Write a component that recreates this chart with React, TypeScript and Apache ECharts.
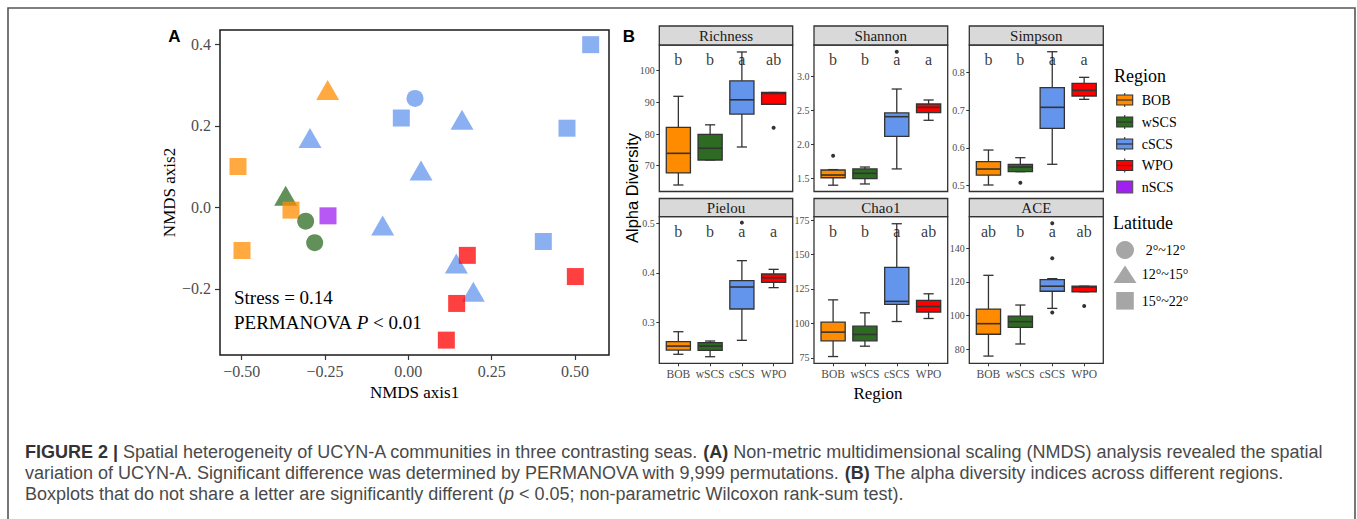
import React, { useEffect, useRef } from 'react';
import * as echarts from 'echarts';

const SERIF = "'Liberation Serif', 'Times New Roman', serif";
const SANS = "'Liberation Sans', Arial, Helvetica, sans-serif";

// ---------- Panel A: NMDS ----------
const regions = ['BOB', 'wSCS', 'cSCS', 'WPO', 'nSCS'];
const regionColors = ['#FF8C00', '#2E6B22', '#6495ED', '#FF0000', '#A020F0'];
const latitudeBands = ['2°~12°', '12°~15°', '15°~22°'];
const latitudeSymbols = ['circle', 'triangle', 'rect'];

const nmdsX = [-0.511, -0.499, -0.242, -0.368, -0.352, -0.308, -0.281, -0.241, 0.020, -0.021, 0.161, 0.547, 0.476, -0.295, 0.038, -0.077, 0.405, 0.144, 0.195, 0.177, 0.501, 0.145, 0.114];
const nmdsY = [0.100, -0.106, 0.288, 0.028, -0.007, -0.034, -0.087, -0.021, 0.267, 0.219, 0.215, 0.399, 0.194, 0.170, 0.090, -0.045, -0.084, -0.138, -0.207, -0.118, -0.170, -0.236, -0.326];
const nmdsRegion = ['BOB', 'BOB', 'BOB', 'wSCS', 'BOB', 'wSCS', 'wSCS', 'nSCS', 'cSCS', 'cSCS', 'cSCS', 'cSCS', 'cSCS', 'cSCS', 'cSCS', 'cSCS', 'cSCS', 'cSCS', 'cSCS', 'WPO', 'WPO', 'WPO', 'WPO'];
const nmdsLatitude = [2, 2, 1, 1, 2, 0, 0, 2, 0, 2, 1, 2, 2, 1, 1, 1, 2, 1, 1, 2, 2, 2, 2];
const nmdsXTicks = [-0.5, -0.25, 0, 0.25, 0.5];
const nmdsYTicks = [-0.2, 0, 0.2, 0.4];

// ---------- Panel B: alpha diversity ----------
const boxCategories = ['BOB', 'wSCS', 'cSCS', 'WPO'];
// each row: [min, Q1, median, Q3, max]
const richnessBoxes = [[63.9, 67.7, 73.9, 82.1, 91.9], [71.8, 71.8, 75.5, 79.9, 82.9], [75.9, 86.3, 90.8, 96.8, 105.9], [89.4, 89.4, 92.8, 93.1, 93.1]];
const richnessOutliers = [[4, 82.0]];
const richnessLetters = ['b', 'b', 'a', 'ab'];
const richnessTicks = [70, 80, 90, 100];

const shannonBoxes = [[1.40, 1.51, 1.55, 1.624, 1.63], [1.418, 1.496, 1.575, 1.64, 1.668], [1.64, 2.12, 2.41, 2.465, 2.818], [2.357, 2.47, 2.548, 2.597, 2.656]];
const shannonOutliers = [[1, 1.835], [3, 3.369]];
const shannonLetters = ['b', 'b', 'a', 'a'];
const shannonTicks = [1.5, 2.0, 2.5, 3.0];

const simpsonBoxes = [[0.5017, 0.528, 0.544, 0.5634, 0.5943], [0.537, 0.537, 0.5493, 0.5565, 0.574], [0.5565, 0.6517, 0.7073, 0.7593, 0.8545], [0.7285, 0.7373, 0.7523, 0.7709, 0.7867]];
const simpsonOutliers = [[2, 0.5078]];
const simpsonLetters = ['b', 'b', 'a', 'a'];
const simpsonTicks = [0.5, 0.6, 0.7, 0.8];

const pielouBoxes = [[0.2354, 0.244, 0.252, 0.2608, 0.281], [0.2305, 0.2434, 0.252, 0.2588, 0.2622], [0.2636, 0.3269, 0.3713, 0.384, 0.4245], [0.37, 0.3808, 0.390, 0.3976, 0.407]];
const pielouOutliers = [[3, 0.5013]];
const pielouLetters = ['b', 'b', 'a', 'a'];
const pielouTicks = [0.3, 0.4, 0.5];

const chao1Boxes = [[76.0, 87.4, 93.7, 100.9, 117.1], [83.5, 87.4, 92.0, 98.0, 107.7], [101.4, 113.8, 116.0, 140.6, 172.3], [103.6, 108.2, 112.3, 116.7, 121.5]];
const chao1Outliers: number[][] = [];
const chao1Letters = ['b', 'b', 'a', 'ab'];
const chao1Ticks = [75, 100, 125, 150, 175];

const aceBoxes = [[75.8, 88.8, 95.1, 103.8, 123.9], [83.0, 92.9, 96.3, 99.6, 106.2], [104.2, 114.4, 117.4, 121.3, 121.9], [114.1, 114.1, 116.9, 117.4, 117.4]];
const aceOutliers = [[3, 134.0], [3, 154.9], [3, 101.8], [4, 105.6]];
const aceLetters = ['ab', 'b', 'a', 'ab'];
const aceTicks = [80, 100, 120, 140];

const panels = [
  { name: 'Richness', boxes: richnessBoxes, outliers: richnessOutliers, letters: richnessLetters, ticks: richnessTicks, letterY: 103.4, min: 61.85, max: 108.1, dec: 0, left: 659.3, width: 133.4, row: 0 },
  { name: 'Shannon', boxes: shannonBoxes, outliers: shannonOutliers, letters: shannonLetters, ticks: shannonTicks, letterY: 3.246, min: 1.307, max: 3.467, dec: 1, left: 814, width: 133.7, row: 0 },
  { name: 'Simpson', boxes: simpsonBoxes, outliers: simpsonOutliers, letters: simpsonLetters, ticks: simpsonTicks, letterY: 0.8326, min: 0.4845, max: 0.8723, dec: 1, left: 969.3, width: 134, row: 0 },
  { name: 'Pielou', boxes: pielouBoxes, outliers: pielouOutliers, letters: pielouLetters, ticks: pielouTicks, letterY: 0.483, min: 0.2172, max: 0.5133, dec: 1, left: 659.3, width: 133.4, row: 1 },
  { name: 'Chao1', boxes: chao1Boxes, outliers: chao1Outliers, letters: chao1Letters, ticks: chao1Ticks, letterY: 166.5, min: 71.1, max: 177.4, dec: 0, left: 814, width: 133.7, row: 1 },
  { name: 'ACE', boxes: aceBoxes, outliers: aceOutliers, letters: aceLetters, ticks: aceTicks, letterY: 149.9, min: 71.5, max: 158.8, dec: 0, left: 969.3, width: 134, row: 1 },
];
const rowLayout = [
  { stripTop: 26, stripH: 19, top: 45, height: 146.5 },
  { stripTop: 198.5, stripH: 18.2, top: 216.7, height: 146.6 },
];

const minus = (s: string) => s.replace('-', '\u2212');

function makeBoxRender(colors: string[]) {
  return (params: any, api: any) => {
    const cat = api.value(0);
    const vals = [1, 2, 3, 4, 5].map((i) => api.value(i));
    const x = api.coord([cat, vals[2]])[0];
    const ys = vals.map((v) => api.coord([cat, v])[1]);
    const unit = api.size([1, 0])[0];
    const bw = unit * 0.76;
    const cap = unit * 0.32;
    const stroke = '#333333';
    const lw = 1.3;
    return {
      type: 'group',
      children: [
        { type: 'line', shape: { x1: x, y1: ys[4], x2: x, y2: ys[3] }, style: { stroke, lineWidth: lw } },
        { type: 'line', shape: { x1: x, y1: ys[1], x2: x, y2: ys[0] }, style: { stroke, lineWidth: lw } },
        { type: 'line', shape: { x1: x - cap / 2, y1: ys[4], x2: x + cap / 2, y2: ys[4] }, style: { stroke, lineWidth: lw } },
        { type: 'line', shape: { x1: x - cap / 2, y1: ys[0], x2: x + cap / 2, y2: ys[0] }, style: { stroke, lineWidth: lw } },
        { type: 'rect', shape: { x: x - bw / 2, y: ys[3], width: bw, height: Math.max(ys[1] - ys[3], 0.5) }, style: { fill: colors[cat - 1], stroke, lineWidth: lw } },
        { type: 'line', shape: { x1: x - bw / 2, y1: ys[2], x2: x + bw / 2, y2: ys[2] }, style: { stroke, lineWidth: 1.6 } },
      ],
    };
  };
}

function buildOption() {
  const grid: any[] = [];
  const xAxis: any[] = [];
  const yAxis: any[] = [];
  const series: any[] = [];
  const graphic: any[] = [];

  // outer frame
  graphic.push({ type: 'rect', shape: { x: 8, y: 8, width: 1347, height: 540 }, style: { fill: 'none', stroke: '#555', lineWidth: 1.6 }, z: 0 });

  // Panel A grid
  grid.push({ left: 220, top: 30, width: 389, height: 325, show: true, borderColor: '#1a1a1a', borderWidth: 1.5, backgroundColor: 'transparent', containLabel: false, outerBoundsMode: 'none' });
  xAxis.push({
    gridIndex: 0, type: 'value', min: -0.565, max: 0.602, position: 'bottom',
    axisLine: { show: false, onZero: false }, splitLine: { show: false },
    axisTick: { show: true, length: 5, lineStyle: { color: '#333', width: 1.2 }, customValues: nmdsXTicks },
    axisLabel: { customValues: nmdsXTicks, formatter: (v: number) => minus(v.toFixed(2)), color: '#4d4d4d', fontSize: 16, fontFamily: SERIF, margin: 8 },
    name: 'NMDS axis1', nameLocation: 'middle', nameGap: 29, nameTextStyle: { fontSize: 17, fontFamily: SERIF, color: '#000' },
  });
  yAxis.push({
    gridIndex: 0, type: 'value', min: -0.3625, max: 0.435, position: 'left',
    axisLine: { show: false, onZero: false }, splitLine: { show: false },
    axisTick: { show: true, length: 5, lineStyle: { color: '#333', width: 1.2 }, customValues: nmdsYTicks },
    axisLabel: { customValues: nmdsYTicks, formatter: (v: number) => minus(v.toFixed(1)), color: '#4d4d4d', fontSize: 16, fontFamily: SERIF, margin: 9 },
    name: 'NMDS axis2', nameLocation: 'middle', nameGap: 38, nameRotate: 90, nameTextStyle: { fontSize: 17, fontFamily: SERIF, color: '#000' },
  });
  series.push({
    type: 'scatter', xAxisIndex: 0, yAxisIndex: 0, silent: true,
    data: nmdsX.map((x, i) => {
      const lat = nmdsLatitude[i];
      const ri = regions.indexOf(nmdsRegion[i]);
      return {
        value: [x, nmdsY[i]],
        symbol: latitudeSymbols[lat],
        symbolSize: lat === 1 ? [23, 20] : 17,
        itemStyle: { color: regionColors[ri], opacity: 0.75 },
      };
    }),
  });

  graphic.push({ type: 'text', x: 174.5, y: 36, style: { text: 'A', fontSize: 17, fontWeight: 'bold', fontFamily: SANS, fill: '#000', align: 'center', verticalAlign: 'middle' } });
  graphic.push({ type: 'text', x: 629, y: 36, style: { text: 'B', fontSize: 17, fontWeight: 'bold', fontFamily: SANS, fill: '#000', align: 'center', verticalAlign: 'middle' } });
  graphic.push({ type: 'text', x: 234, y: 297, style: { text: 'Stress = 0.14', fontSize: 19, fontFamily: SERIF, fill: '#000', align: 'left', verticalAlign: 'middle' } });
  graphic.push({ type: 'text', x: 234, y: 322, style: { text: 'PERMANOVA {i|P} < 0.01', fontSize: 19, fontFamily: SERIF, fill: '#000', align: 'left', verticalAlign: 'middle', rich: { i: { fontStyle: 'italic', fontSize: 19, fontFamily: SERIF, fill: '#000' } } } });

  // Panel B
  panels.forEach((p, k) => {
    const gi = k + 1;
    const r = rowLayout[p.row];
    const bottomRow = p.row === 1;
    grid.push({ left: p.left, top: r.top, width: p.width, height: r.height, show: true, borderColor: '#333', borderWidth: 1.3, backgroundColor: 'transparent', containLabel: false, outerBoundsMode: 'none' });
    xAxis.push({
      gridIndex: gi, type: 'value', min: 0.4, max: 4.6, position: 'bottom',
      axisLine: { show: false, onZero: false }, splitLine: { show: false },
      axisTick: { show: bottomRow, length: 3, lineStyle: { color: '#333' }, customValues: [1, 2, 3, 4] },
      axisLabel: { show: bottomRow, customValues: [1, 2, 3, 4], formatter: (v: number) => boxCategories[Math.round(v) - 1], color: '#4d4d4d', fontSize: 11.5, fontFamily: SERIF, margin: 5 },
    });
    yAxis.push({
      gridIndex: gi, type: 'value', min: p.min, max: p.max, position: 'left',
      axisLine: { show: false, onZero: false }, splitLine: { show: false },
      axisTick: { show: true, length: 3, lineStyle: { color: '#333' }, customValues: p.ticks },
      axisLabel: { customValues: p.ticks, formatter: (v: number) => v.toFixed(p.dec), color: '#4d4d4d', fontSize: 10, fontFamily: SERIF, margin: 4.5 },
    });
    series.push({
      type: 'custom', xAxisIndex: gi, yAxisIndex: gi, silent: true,
      renderItem: makeBoxRender(regionColors),
      encode: { x: 0, y: [1, 2, 3, 4, 5] },
      data: p.boxes.map((b, i) => [i + 1, ...b]),
    });
    series.push({
      type: 'scatter', xAxisIndex: gi, yAxisIndex: gi, silent: true,
      symbolSize: 4, itemStyle: { color: '#000' },
      data: p.outliers,
    });
    series.push({
      type: 'scatter', xAxisIndex: gi, yAxisIndex: gi, silent: true,
      symbolSize: 1, itemStyle: { color: 'rgba(0,0,0,0)' },
      data: p.letters.map((_, i) => [i + 1, p.letterY]),
      label: { show: true, position: 'inside', formatter: (q: any) => p.letters[q.dataIndex], fontSize: 16, fontFamily: SERIF, color: '#000' },
    });
    // strip
    graphic.push({ type: 'rect', shape: { x: p.left, y: r.stripTop, width: p.width, height: r.stripH }, style: { fill: '#D9D9D9', stroke: '#333', lineWidth: 1.3 } });
    graphic.push({ type: 'text', x: p.left + p.width / 2, y: r.stripTop + r.stripH / 2 + 0.5, style: { text: p.name, fontSize: 15, fontFamily: SERIF, fill: '#1a1a1a', align: 'center', verticalAlign: 'middle' } });
  });

  graphic.push({ type: 'text', x: 632, y: 188, rotation: Math.PI / 2, style: { text: 'Alpha Diversity', fontSize: 16.5, fontFamily: SANS, fill: '#000', align: 'center', verticalAlign: 'middle' } });
  graphic.push({ type: 'text', x: 878, y: 393, style: { text: 'Region', fontSize: 17, fontFamily: SERIF, fill: '#000', align: 'center', verticalAlign: 'middle' } });

  // Legend: Region
  graphic.push({ type: 'text', x: 1114, y: 76, style: { text: 'Region', fontSize: 18, fontFamily: SERIF, fill: '#000', align: 'left', verticalAlign: 'middle' } });
  const legendY = [100, 122, 144, 165.5, 187];
  regions.forEach((rg, i) => {
    const cy = legendY[i];
    const cx = 1124.7;
    if (rg !== 'nSCS') {
      graphic.push({ type: 'line', shape: { x1: cx, y1: cy - 7, x2: cx, y2: cy + 7 }, style: { stroke: '#333', lineWidth: 1.1 } });
      graphic.push({ type: 'rect', shape: { x: cx - 8, y: cy - 5, width: 16, height: 10 }, style: { fill: regionColors[i], stroke: '#333', lineWidth: 1.1 } });
      graphic.push({ type: 'line', shape: { x1: cx - 8, y1: cy, x2: cx + 8, y2: cy }, style: { stroke: '#333', lineWidth: 1.2 } });
    } else {
      graphic.push({ type: 'rect', shape: { x: cx - 8, y: cy - 6, width: 16, height: 12 }, style: { fill: regionColors[i], stroke: '#555', lineWidth: 1.1 } });
    }
    graphic.push({ type: 'text', x: 1141.7, y: cy, style: { text: rg, fontSize: 14, fontFamily: SERIF, fill: '#000', align: 'left', verticalAlign: 'middle' } });
  });

  // Legend: Latitude
  graphic.push({ type: 'text', x: 1113, y: 223, style: { text: 'Latitude', fontSize: 18, fontFamily: SERIF, fill: '#000', align: 'left', verticalAlign: 'middle' } });
  const latGray = '#A6A6A6';
  graphic.push({ type: 'circle', shape: { cx: 1125, cy: 250, r: 9 }, style: { fill: latGray } });
  graphic.push({ type: 'polygon', shape: { points: [[1125, 265.5], [1113.5, 283], [1136.5, 283]] }, style: { fill: latGray } });
  graphic.push({ type: 'rect', shape: { x: 1116.2, y: 292, width: 17.6, height: 17.6 }, style: { fill: latGray } });
  const latLabelX = [1145.7, 1141.7, 1141.7];
  const latLabelY = [250, 274, 301];
  latitudeBands.forEach((t, i) => {
    graphic.push({ type: 'text', x: latLabelX[i], y: latLabelY[i], style: { text: t, fontSize: 14, fontFamily: SERIF, fill: '#000', align: 'left', verticalAlign: 'middle' } });
  });

  // Caption
  const capSize = 18;
  const capStyle = { fontSize: capSize, fontFamily: SANS, fill: '#4a4a4a', align: 'left', verticalAlign: 'middle' };
  const rich = { b: { fontWeight: 'bold', fontSize: capSize, fontFamily: SANS, fill: '#333' }, i: { fontStyle: 'italic', fontSize: capSize, fontFamily: SANS, fill: '#4a4a4a' } };
  const captionLines = [
    '{b|FIGURE 2 |} Spatial heterogeneity of UCYN-A communities in three contrasting seas. {b|(A)} Non-metric multidimensional scaling (NMDS) analysis revealed the spatial',
    'variation of UCYN-A. Significant difference was determined by PERMANOVA with 9,999 permutations. {b|(B)} The alpha diversity indices across different regions.',
    'Boxplots that do not share a letter are significantly different ({i|p} < 0.05; non-parametric Wilcoxon rank-sum test).',
  ];
  const capY = [451.7, 472.7, 494.3];
  captionLines.forEach((t, i) => {
    graphic.push({ type: 'text', x: 25, y: capY[i], style: { ...capStyle, text: t, rich } });
  });

  return { animation: false, backgroundColor: '#fff', grid, xAxis, yAxis, series, graphic };
}

export default function App() {
  const ref = useRef<HTMLDivElement>(null);
  useEffect(() => {
    if (!ref.current) return;
    const chart = echarts.init(ref.current, undefined, { renderer: 'svg' });
    chart.setOption(buildOption() as any);
    return () => chart.dispose();
  }, []);
  return <div ref={ref} style={{ position: 'fixed', left: 0, top: 0, width: 1357, height: 519, background: '#fff' }} />;
}
